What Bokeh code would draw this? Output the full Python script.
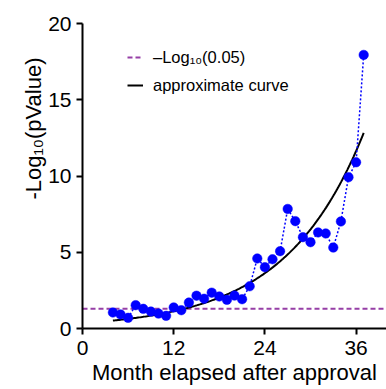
from bokeh.plotting import figure
from bokeh.models import Range1d, FixedTicker, Legend, LegendItem, Title
from bokeh.embed import file_html
from bokeh.resources import INLINE
import numpy as np

# Monthly -log10(p) values after approval
months = [4, 5, 6, 7, 8, 9, 10, 11, 12, 13, 14, 15, 16, 17, 18, 19, 20,
          21, 22, 23, 24, 25, 26, 27, 28, 29, 30, 31, 32, 33, 34, 35, 36, 37]
neg_log_p = [1.05, 0.92, 0.70, 1.53, 1.29, 1.11, 0.98, 0.83, 1.38, 1.20,
             1.70, 2.15, 1.95, 2.35, 2.10, 1.88, 2.16, 1.92, 2.77, 4.59,
             4.02, 4.54, 5.07, 7.84, 7.04, 5.99, 5.66, 6.30, 6.23, 5.31,
             7.02, 9.92, 10.90, 17.94]

# Significance threshold
alpha = 0.05
threshold = -np.log10(alpha)

# Fitted exponential trend: y = A * exp(B * month)
curve_A = 0.353
curve_B = 0.0971
curve_x = np.linspace(months[0], months[-1], 200)
curve_y = curve_A * np.exp(curve_B * curve_x)

x_ticks = [0, 12, 24, 36]
y_ticks = [0, 5, 10, 15, 20]

FONT = "Liberation Sans"

p = figure(width=386, height=389, output_backend="svg", toolbar_location=None,
           x_range=Range1d(0, 40), y_range=Range1d(0, 20),
           min_border_left=82, min_border_right=0, min_border_top=23,
           min_border_bottom=61)
p.outline_line_color = None
p.grid.visible = False
p.background_fill_color = "white"
p.border_fill_color = "white"

for ax in (p.xaxis[0], p.yaxis[0]):
    ax.axis_line_width = 2
    ax.axis_line_color = "black"
    ax.major_tick_line_width = 2
    ax.major_tick_line_color = "black"
    ax.major_tick_in = 0
    ax.major_tick_out = 6
    ax.minor_tick_line_color = None
    ax.major_label_text_font = FONT
    ax.major_label_text_font_size = "21px"
    ax.major_label_text_color = "black"

p.xaxis.ticker = FixedTicker(ticks=x_ticks)
p.yaxis.ticker = FixedTicker(ticks=y_ticks)
p.xaxis.major_label_standoff = 6
p.yaxis.major_label_standoff = 5

# Axis titles as side-panel titles so their placement can be tuned
x_title = Title(text="Month elapsed after approval", align="center",
                vertical_align="bottom", standoff=0,
                text_font=FONT, text_font_size="22px", text_color="black",
                text_font_style="normal")
y_title = Title(text="-Log\u2081\u2080(pValue)", align="right", offset=34,
                vertical_align="bottom", standoff=0,
                text_font=FONT, text_font_size="22px", text_color="black",
                text_font_style="normal")
p.add_layout(x_title, "below")
p.add_layout(y_title, "left")

thr = p.line([0, 40], [threshold, threshold], line_color="#963fa6",
             line_width=2, line_dash="5 3")
fit = p.line(curve_x, curve_y, line_color="black", line_width=2)
p.line(months, neg_log_p, line_color="blue", line_width=1.5, line_dash="2 2")
p.scatter(months, neg_log_p, size=9.5, fill_color="blue", line_color="blue",
          line_width=0.5)

legend = Legend(items=[LegendItem(label="\u2013Log\u2081\u2080(0.05)", renderers=[thr]),
                       LegendItem(label="approximate curve", renderers=[fit])],
                location=(45, 233), padding=0, margin=0, spacing=8,
                glyph_width=16, glyph_height=20, label_height=20,
                label_standoff=10, border_line_color=None,
                background_fill_alpha=0, label_text_font=FONT,
                label_text_font_size="16.5px", label_text_color="black")
p.add_layout(legend, "center")

open("out.html", "w").write(file_html(p, INLINE))
